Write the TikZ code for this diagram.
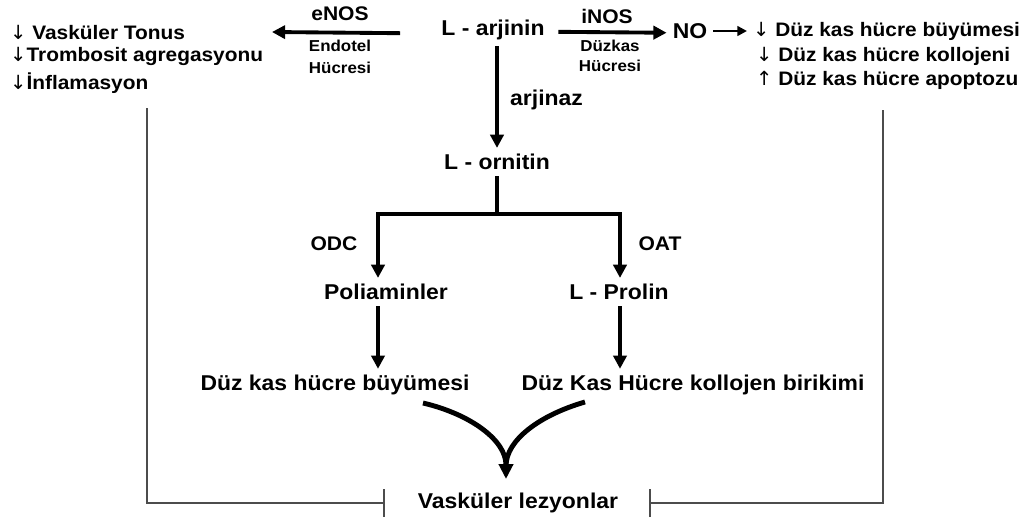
\documentclass[tikz,border=0pt]{standalone}
\usepackage{fontspec}
\setmainfont{Liberation Sans}[FakeStretch=1.07]
\newfontfamily\arrfont{DejaVu Sans}
\usetikzlibrary{arrows.meta}
\newcommand{\dn}{{\arrfont\mdseries ↓}}
\newcommand{\up}{{\arrfont\mdseries ↑}}
\tikzset{
  lbl/.style={font=\fontsize{12.2}{14}\selectfont\bfseries},
  lst/.style={font=\fontsize{11.1}{13}\selectfont\bfseries,anchor=west},
  enz/.style={font=\fontsize{11.2}{13}\selectfont\bfseries},
  cell/.style={font=\fontsize{9}{10}\selectfont\bfseries},
  arr/.style={line width=2.2pt,-{Triangle[length=7.5pt,width=7.5pt]}},
  brk/.style={line width=1.1pt,black!70}
}
\begin{document}
\begin{tikzpicture}[x=0.02cm,y=-0.02cm]
\useasboundingbox (0,0) rectangle (1022,521);
% substrate
\node[lbl] (arj) at (493,30) {L - arjinin};
\node[enz] (enos) at (340,14) {eNOS};
\node[cell] (endo1) at (340,46) {Endotel};
\node[cell] (endo2) at (340,68) {Hücresi};
\node[enz] (inos) at (607,16) {iNOS};
\node[cell] (dk1c) at (610,46) {Düzkas};
\node[cell] (dk2c) at (610,66) {Hücresi};
\node[lbl] (no) at (690,31) {NO};
% effects
\node[lst] (vt) at (4,32) {\dn\ Vasküler Tonus};
\node[lst] (ta) at (4,56) {\dn Trombosit agregasyonu};
\node[lst] (inf) at (4,83) {\dn İnflamasyon};
\node[lst] (r1) at (747,31) {\dn\ Düz kas hücre büyümesi};
\node[lst] (r2) at (750,56) {\dn\ Düz kas hücre kollojeni};
\node[lst] (r3) at (750,80) {\up\ Düz kas hücre apoptozu};
% ornitin branch
\node[lbl,anchor=west] (arz) at (504,100) {arjinaz};
\node[lbl] (orn) at (497,162) {L - ornitin};
\node[enz] (odc) at (334,244) {ODC};
\node[enz] (oat) at (660,244) {OAT};
\node[lbl] (poli) at (386,292) {Poliaminler};
\node[lbl] (prol) at (619,292) {L - Prolin};
\node[lbl] (buy) at (335,385) {Düz kas hücre büyümesi};
\node[lbl] (kol) at (693,385) {Düz Kas Hücre kollojen birikimi};
\node[lbl] (lez) at (518,503) {Vasküler lezyonlar};
\coordinate (enosend) at (272,32);
\coordinate (split) at (497,214);
\coordinate (lft) at (378,214);
\coordinate (rgt) at (620,214);
\coordinate (c1) at (423,403);
\coordinate (c2) at (585,402);
\coordinate (lb) at (147,108);
\coordinate (rb) at (883,110);
% connectors
\draw[arr,shorten <=0.7cm] ([yshift=-2pt]arj.west) -- (enosend);
\draw[arr,shorten <=0.15cm] ([yshift=-1pt]arj.east) -- ([yshift=-1pt]no.west);
\draw[line width=1.4pt,-{Triangle[length=5.5pt,width=5.5pt]}] (no) -- (r1);
\draw[arr] (arj.south -| orn) -- (orn);
\draw[line width=2.2pt] (orn) -- (split);
\draw[arr] (split) -- (lft) -- (lft |- poli.north);
\draw[arr] (split) -- (rgt) -- (rgt |- prol.north);
\draw[arr] (lft |- poli.south) -- (lft |- buy.north);
\draw[arr] (rgt |- prol.south) -- (rgt |- kol.north);
\draw[line width=2.8pt] (c2) .. controls (540,415) and (506,440) .. (506,466);
\draw[line width=2.8pt,-{Triangle[length=8.5pt,width=8pt]}] (c1) .. controls (470,414) and (506,440) .. (506,479);
\draw[brk,-{Bar[width=0.56cm]},shorten >=0.54cm] (lb) |- (lez.west);
\draw[brk,-{Bar[width=0.56cm]},shorten >=0.5cm] (rb) |- (lez.east);
\end{tikzpicture}
\end{document}
